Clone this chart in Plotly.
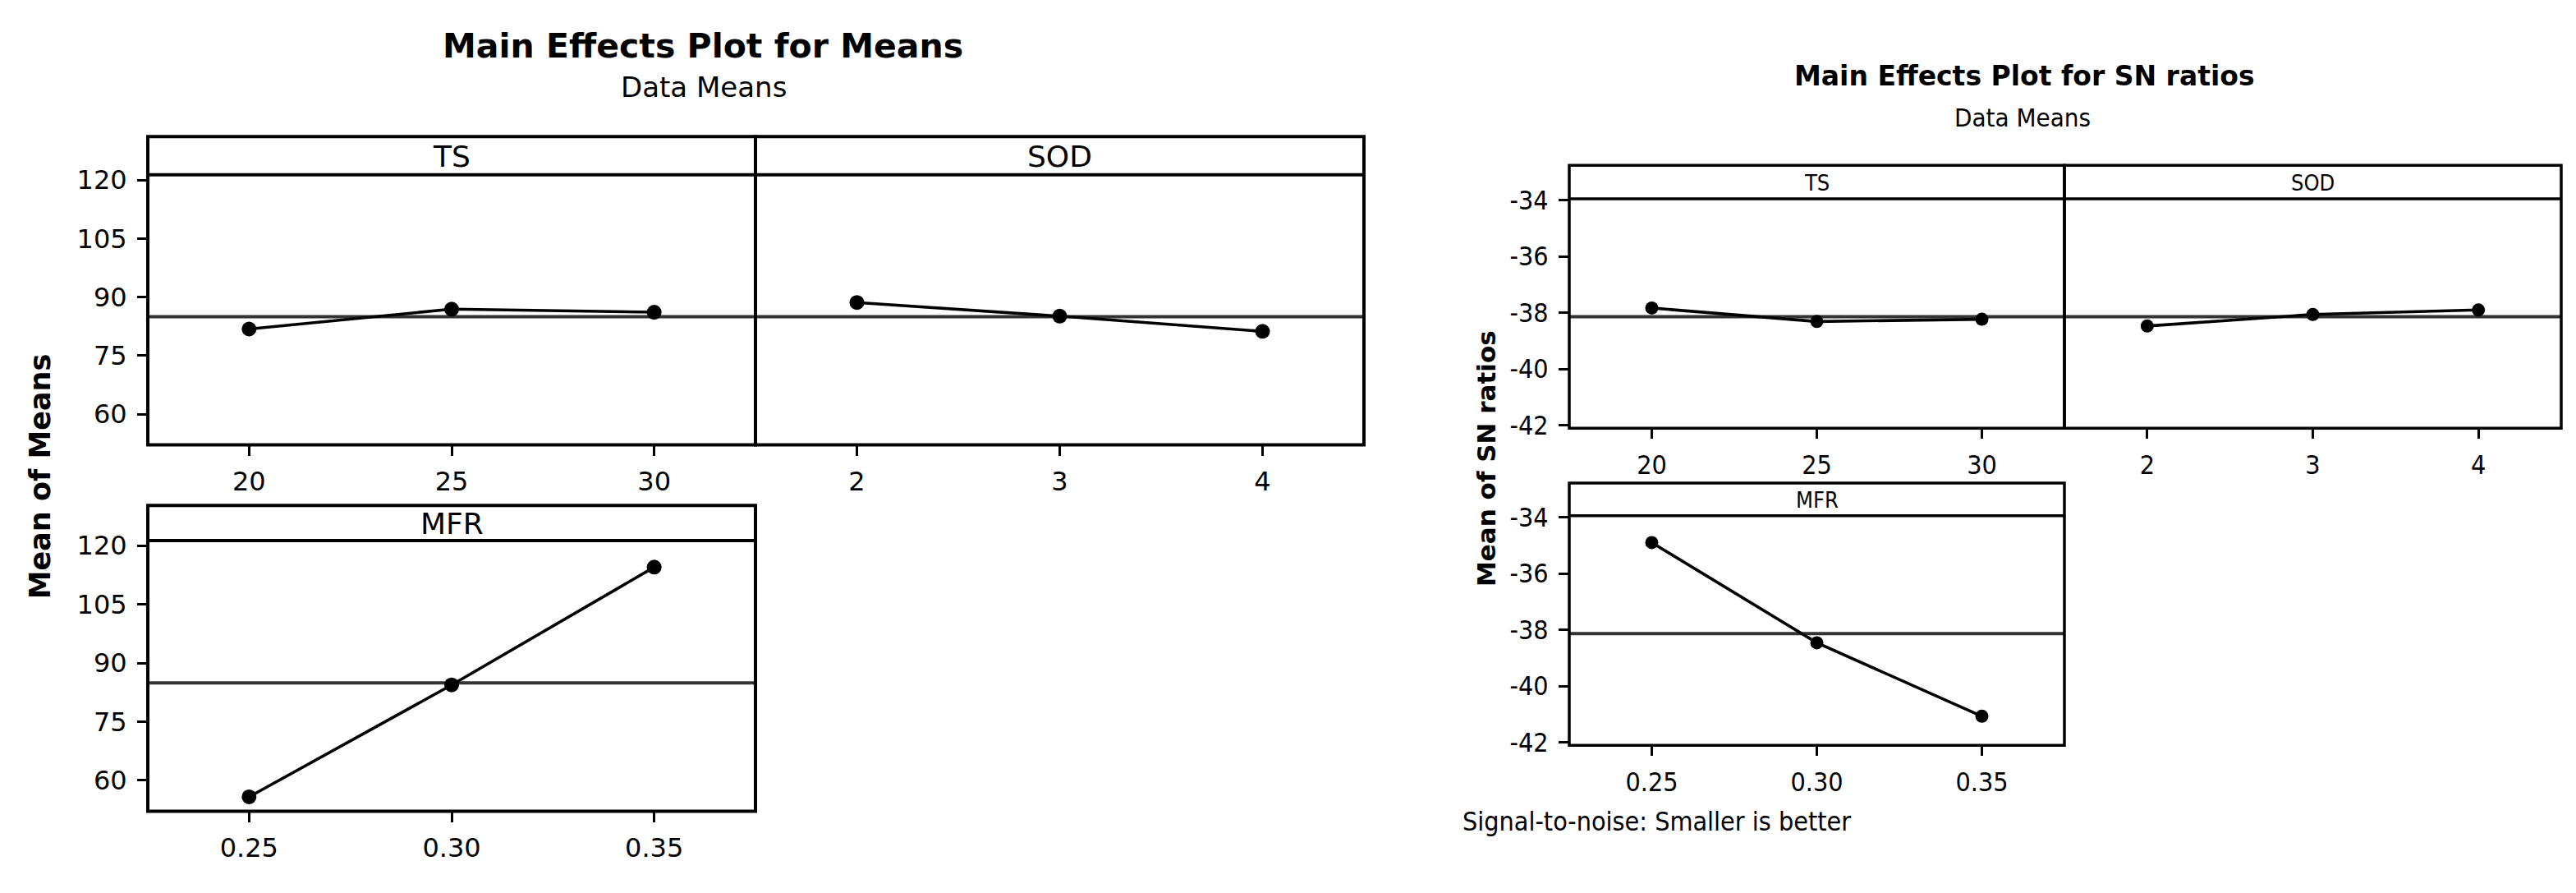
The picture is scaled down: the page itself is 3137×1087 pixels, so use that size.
import plotly.graph_objects as go
import numpy as np

W, H = 3137, 1087

# ---------------- data ----------------
ts_levels = ["20", "25", "30"]
sod_levels = ["2", "3", "4"]
mfr_levels = ["0.25", "0.30", "0.35"]

means_ts = [81.8, 86.9, 86.1]
means_sod = [88.6, 85.1, 81.2]
means_mfr = [55.8, 84.4, 114.5]

sn_ts = [-37.83, -38.31, -38.23]
sn_sod = [-38.47, -38.06, -37.90]
sn_mfr = [-34.90, -38.46, -41.07]

means_yticks = [60, 75, 90, 105, 120]
sn_yticks = [-42, -40, -38, -36, -34]

means_title = "Main Effects Plot for Means"
sn_title = "Main Effects Plot for SN ratios"
subtitle = "Data Means"
means_ylabel = "Mean of Means"
sn_ylabel = "Mean of SN ratios"
footnote = "Signal-to-noise: Smaller is better"

grand_mean_means = float(np.mean(means_ts + means_sod + means_mfr))
grand_mean_sn = float(np.mean(sn_ts + sn_sod + sn_mfr))

# ---------------- layout helpers ----------------
def px(x):
    return x / W

def py(y):
    return 1 - y / H

LFONT = "DejaVu Sans"
RFONT = "DejaVu Sans Condensed, DejaVu Sans"

# (factor, levels, values, x0, x1, strip_top, data_top, data_bottom, yrange, yticks, show_y, group)
panels = [
    ("TS", ts_levels, means_ts, 180, 920, 154, 202, 541, [52.1, 121.3], means_yticks, True, "L"),
    ("SOD", sod_levels, means_sod, 920, 1661, 154, 202, 541, [52.1, 121.3], means_yticks, False, "L"),
    ("MFR", mfr_levels, means_mfr, 180, 920, 617, 661, 1001, [52.1, 121.3], means_yticks, True, "L"),
    ("TS", ts_levels, sn_ts, 1911, 2514, 190, 232, 520, [-42.1, -33.95], sn_yticks, True, "R"),
    ("SOD", sod_levels, sn_sod, 2514, 3119, 190, 232, 520, [-42.1, -33.95], sn_yticks, False, "R"),
    ("MFR", mfr_levels, sn_mfr, 1911, 2514, 589, 630, 918, [-42.1, -33.95], sn_yticks, True, "R"),
]

fig = go.Figure()
layout = dict(
    width=W, height=H,
    margin=dict(l=0, r=0, t=0, b=0),
    paper_bgcolor="white", plot_bgcolor="white",
    showlegend=False,
)
shapes = []
annotations = []

for i, (fac, levels, vals, x0, x1, st, dt, db, yr, yt, show_y, grp) in enumerate(panels):
    n = i + 1
    xa = "xaxis" if n == 1 else f"xaxis{n}"
    ya = "yaxis" if n == 1 else f"yaxis{n}"
    xr = "x" if n == 1 else f"x{n}"
    yrf = "y" if n == 1 else f"y{n}"
    font = LFONT if grp == "L" else RFONT
    tsize = 32
    lw = 4 if grp == "L" else 3.5
    gm = grand_mean_means if grp == "L" else grand_mean_sn
    msize = 18 if grp == "L" else 16

    fig.add_trace(go.Scatter(
        x=levels, y=vals, xaxis=xr, yaxis=yrf, mode="lines+markers",
        line=dict(color="black", width=3.6),
        marker=dict(color="black", size=msize),
        hoverinfo="skip", cliponaxis=False,
    ))

    layout[xa] = dict(
        domain=[px(x0), px(x1)], anchor=yrf, type="category",
        range=[-0.5, 2.5], tickmode="array", tickvals=levels, ticktext=levels,
        ticks="outside", ticklen=12, tickwidth=3, tickcolor="black",
        showline=False, showgrid=False, zeroline=False, fixedrange=True,
        tickfont=dict(family=font, size=tsize, color="black"),
        ticklabelstandoff=4,
    )
    layout[ya] = dict(
        domain=[py(db), py(dt)], anchor=xr, range=yr,
        tickmode="array", tickvals=yt, ticktext=[str(v) for v in yt],
        ticks="outside" if show_y else "", ticklen=12, tickwidth=3, tickcolor="black",
        showticklabels=show_y,
        showline=False, showgrid=False, zeroline=False, fixedrange=True,
        tickfont=dict(family=font, size=tsize, color="black"),
        ticklabelstandoff=6,
    )
    # mean reference line
    shapes.append(dict(type="line", xref=f"{xr} domain", yref=yrf,
                       x0=0, x1=1, y0=gm, y1=gm,
                       line=dict(color="#333333", width=4), layer="below"))
    # panel frame (strip + data region)
    shapes.append(dict(type="rect", xref="paper", yref="paper",
                       x0=px(x0), x1=px(x1), y0=py(db), y1=py(st),
                       line=dict(color="black", width=lw), fillcolor="rgba(0,0,0,0)", layer="above"))
    # strip bottom line
    shapes.append(dict(type="line", xref="paper", yref="paper",
                       x0=px(x0), x1=px(x1), y0=py(dt), y1=py(dt),
                       line=dict(color="black", width=lw), layer="above"))
    # strip label
    annotations.append(dict(text=fac, xref="paper", yref="paper",
                            x=px((x0 + x1) / 2), y=py((st + dt) / 2 + 1),
                            xanchor="center", yanchor="middle", showarrow=False,
                            font=dict(family=font, size=36 if grp == "L" else 27, color="black")))

# titles
annotations += [
    dict(text=f"<b>{means_title}</b>", x=px(856), y=py(40), xref="paper", yref="paper",
         xanchor="center", yanchor="middle", showarrow=False,
         font=dict(family=LFONT, size=41, color="black")),
    dict(text=subtitle, x=px(857), y=py(92), xref="paper", yref="paper",
         xanchor="center", yanchor="middle", showarrow=False,
         font=dict(family=LFONT, size=34, color="black")),
    dict(text=f"<b>{means_ylabel}</b>", x=px(49), y=py(581), xref="paper", yref="paper",
         xanchor="center", yanchor="middle", showarrow=False, textangle=-90,
         font=dict(family=LFONT, size=35, color="black")),
    dict(text=f"<b>{sn_title}</b>", x=px(2465), y=py(78), xref="paper", yref="paper",
         xanchor="center", yanchor="middle", showarrow=False,
         font=dict(family=LFONT, size=33, color="black")),
    dict(text=subtitle, x=px(2463), y=py(130), xref="paper", yref="paper",
         xanchor="center", yanchor="middle", showarrow=False,
         font=dict(family=RFONT, size=31, color="black")),
    dict(text=f"<b>{sn_ylabel}</b>", x=px(1810), y=py(558), xref="paper", yref="paper",
         xanchor="center", yanchor="middle", showarrow=False, textangle=-90,
         font=dict(family=LFONT, size=31, color="black")),
    dict(text=footnote, x=px(1779), y=py(1014), xref="paper", yref="paper",
         xanchor="left", yanchor="middle", showarrow=False,
         font=dict(family=RFONT, size=32, color="black")),
]

layout["shapes"] = shapes
layout["annotations"] = annotations
fig.update_layout(**layout)
fig.write_html(
    "out.html",
    config={"displayModeBar": False},
    post_script="document.body.style.margin='0';document.body.style.overflow='hidden';",
)
